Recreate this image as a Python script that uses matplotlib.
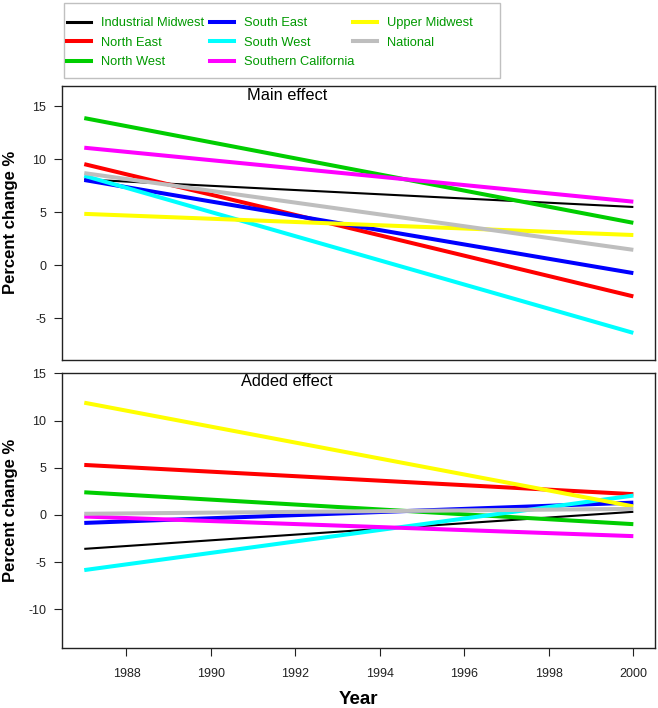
import matplotlib
matplotlib.use("Agg")
import matplotlib.pyplot as plt
from matplotlib.lines import Line2D
from matplotlib.patches import Rectangle

plt.rcParams['font.family'] = ['Liberation Sans', 'DejaVu Sans']
plt.rcParams['axes.unicode_minus'] = False

years = [1987, 2000]
regions = ["Industrial Midwest", "North East", "North West", "South East",
           "South West", "Southern California", "Upper Midwest", "National"]
colors = ["#000000", "#FF0000", "#00CD00", "#0000FF",
          "#00FFFF", "#FF00FF", "#FFFF00", "#BEBEBE"]

# Main effect: values at 1987 and 2000
main_im = [8.1, 5.5]
main_ne = [9.55, -2.95]
main_nw = [13.9, 4.0]
main_se = [8.05, -0.75]
main_sw = [8.45, -6.4]
main_sc = [11.1, 6.0]
main_um = [4.85, 2.85]
main_nat = [8.7, 1.45]

# Added effect: values at 1987 and 2000
add_im = [-3.6, 0.33]
add_ne = [5.3, 2.2]
add_nw = [2.4, -0.98]
add_se = [-0.85, 1.3]
add_sw = [-5.85, 2.05]
add_sc = [-0.17, -2.25]
add_um = [11.9, 0.9]
add_nat = [0.12, 0.64]

main_series = [main_im, main_ne, main_nw, main_se, main_sw, main_sc, main_um, main_nat]
add_series = [add_im, add_ne, add_nw, add_se, add_sw, add_sc, add_um, add_nat]

yticks_top = [15, 10, 5, 0, -5]
yticks_bot = [15, 10, 5, 0, -5, -10]
xticks = [1988, 1990, 1992, 1994, 1996, 1998, 2000]

W, H = 658, 708
fig = plt.figure(figsize=(W / 100, H / 100), dpi=100)

def fx(px):
    return px / W

def fy(py):
    return 1 - py / H

left, right = 62.3, 655.3
ax1 = fig.add_axes([fx(left), fy(360), fx(right) - fx(left), fy(85.7) - fy(360)])
ax2 = fig.add_axes([fx(left), fy(647.7), fx(right) - fx(left), fy(372.7) - fy(647.7)])

for ax, series in ((ax1, main_series), (ax2, add_series)):
    for i in range(len(regions)):
        lw = 1.5 if colors[i] == "#000000" else 2.9
        ax.plot(years, series[i], color=colors[i], lw=lw, solid_capstyle='butt',
                zorder=3)
    ax.set_xlim(1986.48, 2000.52)
    for s in ax.spines.values():
        s.set_color('#222222')
        s.set_linewidth(1.0)
    ax.tick_params(axis='both', direction='out', length=5.5, width=0.8,
                   colors='#222222', labelsize=9, labelcolor='#222222')
    ax.tick_params(axis='y', pad=6)
    ax.tick_params(axis='x', pad=9)
    ax.set_ylabel("Percent change %", fontsize=12, fontweight='bold')
    ax.yaxis.set_label_coords((18 - left) / (right - left), 0.5)

ax1.set_ylim(-8.96, 16.96)
ax1.set_yticks(yticks_top)
ax1.set_xticks([])
ax2.set_ylim(-14.08, 15.08)
ax2.set_yticks(yticks_bot)
ax2.set_xticks(xticks)
ax2.set_xlabel("Year", fontsize=13.5, fontweight='bold', labelpad=8)

fig.text(fx(287), fy(87.5), "Main effect", ha='center', va='top', fontsize=11.8)
fig.text(fx(287), fy(373.5), "Added effect", ha='center', va='top', fontsize=11.8)

# Legend: three equal-width columns inside a single grey box
handles = []
for i, c in enumerate(colors):
    handles.append(Line2D([0], [0], color=c, lw=2.9 if i != 0 else 2.2))
col_groups = [[0, 1, 2], [3, 4, 5], [6, 7]]
col_x = [67, 210, 353]
fs = 9.3
for grp, x0 in zip(col_groups, col_x):
    leg = fig.legend([handles[i] for i in grp], [regions[i] for i in grp],
                     loc='upper left', bbox_to_anchor=(fx(x0), fy(17.3)),
                     frameon=False, fontsize=fs, handlelength=1.85,
                     handletextpad=0.82, labelspacing=0.58, borderpad=0,
                     borderaxespad=0)
    for t in leg.get_texts():
        t.set_color('#009900')
fig.add_artist(Rectangle((fx(64), fy(78)), fx(500) - fx(64), fy(2.7) - fy(78),
                         transform=fig.transFigure, fill=False,
                         edgecolor='#C0C0C0', lw=1.0))

fig.savefig("out.png", dpi=100)
